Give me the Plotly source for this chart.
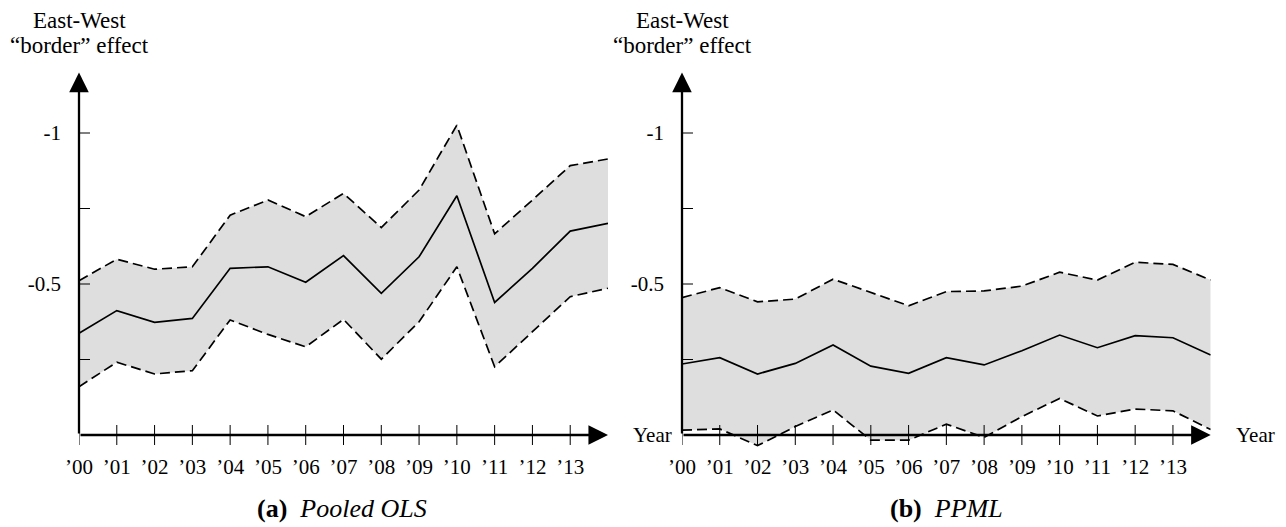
import plotly.graph_objects as go

# ---------------- data ----------------
years = list(range(15))  # 2000 .. 2014
tick_years = list(range(14))
tick_labels = ["’%02d" % y for y in tick_years]

ols_est = [-0.337, -0.412, -0.373, -0.386, -0.552, -0.557, -0.506, -0.594,
           -0.469, -0.590, -0.792, -0.439, -0.552, -0.675, -0.701]
ols_upper = [-0.511, -0.582, -0.549, -0.557, -0.728, -0.778, -0.723, -0.800,
             -0.687, -0.811, -1.026, -0.666, -0.778, -0.892, -0.914]
ols_lower = [-0.160, -0.241, -0.202, -0.213, -0.381, -0.333, -0.292, -0.383,
             -0.251, -0.375, -0.557, -0.226, -0.342, -0.458, -0.486]

ppml_est = [-0.235, -0.256, -0.202, -0.237, -0.298, -0.228, -0.204, -0.256,
            -0.232, -0.279, -0.331, -0.289, -0.329, -0.322, -0.265]
ppml_upper = [-0.455, -0.488, -0.441, -0.450, -0.516, -0.471, -0.428, -0.475,
              -0.477, -0.493, -0.539, -0.513, -0.572, -0.565, -0.513]
ppml_lower = [-0.016, -0.020, 0.035, -0.028, -0.083, 0.017, 0.017, -0.036,
              0.008, -0.061, -0.121, -0.063, -0.086, -0.080, -0.018]

y_tick_vals = [-1, -0.75, -0.5, -0.25]
y_tick_labels = ["-1", "", "-0.5", ""]

panels = [
    ("x", "y", ols_est, ols_upper, ols_lower, "<b>(a)</b>&nbsp; <i>Pooled OLS</i>"),
    ("x2", "y2", ppml_est, ppml_upper, ppml_lower, "<b>(b)</b>&nbsp; <i>PPML</i>"),
]

FONT = "Liberation Serif"
W, H = 1286, 527
FILL = "rgb(222,222,222)"

fig = go.Figure()
for xa, ya, est, up, lo, cap in panels:
    fig.add_trace(go.Scatter(x=years, y=lo, xaxis=xa, yaxis=ya, mode="lines",
                             line=dict(width=0), hoverinfo="skip", showlegend=False))
    fig.add_trace(go.Scatter(x=years, y=up, xaxis=xa, yaxis=ya, mode="lines",
                             line=dict(width=0), fill="tonexty", fillcolor=FILL,
                             hoverinfo="skip", showlegend=False))
    for s in (up, lo):
        fig.add_trace(go.Scatter(x=years, y=s, xaxis=xa, yaxis=ya, mode="lines",
                                 line=dict(color="black", width=1.7, dash="10px,5px"),
                                 showlegend=False))
    fig.add_trace(go.Scatter(x=years, y=est, xaxis=xa, yaxis=ya, mode="lines",
                             line=dict(color="black", width=1.7), showlegend=False))

y_range = [0.05, -1.2]
y_dom = [(H - (435 + 0.05 * 302)) / H, (H - (435 - 1.2 * 302)) / H]
x_doms = [[79 / W, 608 / W], [682 / W, 1210.7 / W]]

common_x = dict(range=[0, 14], showgrid=False, zeroline=False, showline=False,
                tickvals=tick_years, ticktext=tick_labels, ticks="",
                tickfont=dict(family=FONT, size=21, color="black"),
                ticklabelstandoff=2, fixedrange=True, automargin=False)
common_y = dict(range=y_range, domain=y_dom, showgrid=False, zeroline=False,
                showline=False, tickvals=y_tick_vals, ticktext=y_tick_labels,
                ticks="", tickfont=dict(family=FONT, size=21, color="black"),
                ticklabelstandoff=17, fixedrange=True, automargin=False)

layout = dict(
    width=W, height=H, autosize=False,
    margin=dict(l=0, r=0, t=0, b=0, pad=0),
    paper_bgcolor="white", plot_bgcolor="rgba(0,0,0,0)",
    xaxis=dict(domain=x_doms[0], anchor="y", **common_x),
    yaxis=dict(anchor="x", **common_y),
    xaxis2=dict(domain=x_doms[1], anchor="y2", **common_x),
    yaxis2=dict(anchor="x2", **common_y),
)
fig.update_layout(**layout)

shapes = []
annotations = []
for i, (xa, ya, est, up, lo, cap) in enumerate(panels):
    # tick marks crossing the axes
    for t in tick_years:
        shapes.append(dict(type="line", xref=xa, yref=ya, ysizemode="pixel",
                           yanchor=0, y0=-10, y1=10, x0=t, x1=t,
                           line=dict(color="black", width=1)))
    for v in y_tick_vals:
        shapes.append(dict(type="line", xref=xa, yref=ya, xsizemode="pixel",
                           xanchor=0, x0=-11, x1=11, y0=v, y1=v,
                           line=dict(color="black", width=1)))
    # axis arrows
    annotations.append(dict(x=14, y=0, ax=0, ay=0, xref=xa, yref=ya,
                            axref=xa, ayref=ya, text="", showarrow=True,
                            arrowhead=2, arrowsize=1.7, arrowwidth=2.3,
                            arrowcolor="black"))
    annotations.append(dict(x=0, y=-1.2, ax=0, ay=0, xref=xa, yref=ya,
                            axref=xa, ayref=ya, text="", showarrow=True,
                            arrowhead=2, arrowsize=1.7, arrowwidth=2.3,
                            arrowcolor="black"))
    # axis titles (two lines)
    x0 = x_doms[i][0]
    for txt, ypix in (("East-West", 21), ("“border” effect", 45)):
        annotations.append(dict(x=x0, y=1 - ypix / H, xref="paper", yref="paper",
                                text=txt, showarrow=False,
                                xanchor="center", yanchor="middle",
                                font=dict(family=FONT, size=23, color="black")))
    annotations.append(dict(x=x_doms[i][1] + 23 / W, y=0, xref="paper", yref=ya,
                            text="Year", showarrow=False, xanchor="left",
                            yanchor="middle",
                            font=dict(family=FONT, size=21, color="black")))
    # captions
    cx = [342 / W, 946 / W][i]
    annotations.append(dict(x=cx, y=1 - 508 / H, xref="paper", yref="paper",
                            text=cap, showarrow=False, xanchor="center",
                            yanchor="middle",
                            font=dict(family=FONT, size=26, color="black")))

fig.update_layout(shapes=shapes, annotations=annotations)
fig.write_html("out.html", config={"displayModeBar": False},
               post_script="document.body.style.margin='0';")
